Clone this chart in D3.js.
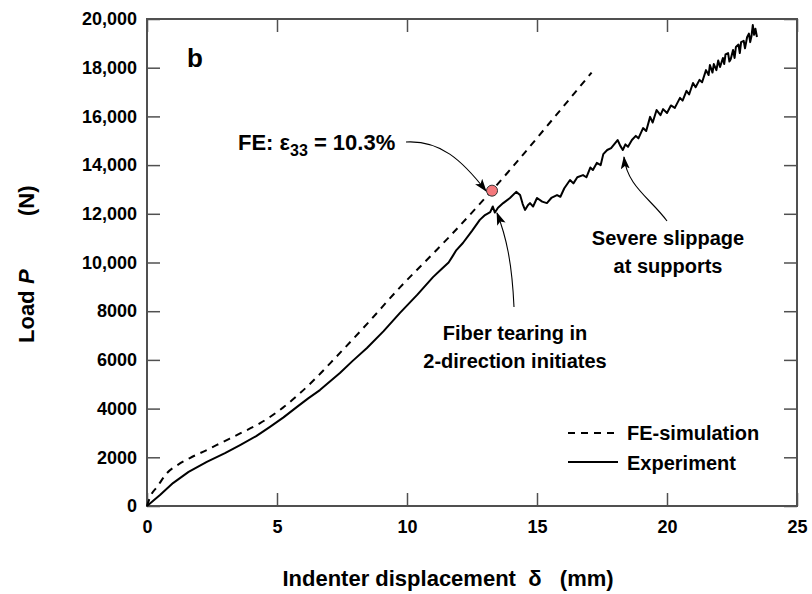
<!DOCTYPE html>
<html>
<head>
<meta charset="utf-8">
<script src="https://cdn.jsdelivr.net/npm/d3@7"></script>
<style>
  body { margin: 0; background: #fff; }
  svg text { font-family: "Liberation Sans", Arial, sans-serif; font-weight: bold; fill: #000; }
</style>
</head>
<body>
<div id="chart"></div>
<script>
// FE-simulation curve (displacement mm, load N)
const feDisp = [0, 0.12, 0.4, 0.77, 1.2, 1.65, 2.3, 2.92, 3.6, 4.35, 5.23, 6.38, 7.3, 8.5, 9.73, 10.7, 11.65, 12.93, 14.0, 15.5, 17.1];
const feLoad = [0, 370, 800, 1355, 1700, 1970, 2300, 2630, 2990, 3400, 4040, 5130, 6150, 7520, 8980, 10040, 11080, 12560, 13850, 15750, 17800];

// Experiment curve
const expDisp = [0, 0.5, 1.0, 1.6, 2.3, 3.0, 3.58, 4.2, 4.73, 5.25, 5.77, 6.2, 6.65, 7.42, 7.9, 8.46, 9.1, 9.73, 10.4, 11.0, 11.3, 11.6, 11.75, 11.9, 12.15, 12.5, 12.8, 13.0, 13.2, 13.3, 13.38, 13.5, 13.7, 13.96, 14.2, 14.35, 14.45, 14.54, 14.65, 14.73, 14.85, 15.0, 15.2, 15.38, 15.55, 15.77, 15.9, 16.05, 16.27, 16.4, 16.55, 16.77, 16.9, 17.05, 17.15, 17.3, 17.45, 17.55, 17.7, 17.85, 18.1, 18.2, 18.3, 18.4, 18.5, 18.65, 18.8, 18.9, 19.08, 19.2, 19.35, 19.45, 19.6, 19.75, 19.85, 20.0, 20.15, 20.3, 20.5, 20.6, 20.75, 20.85, 21.0, 21.1, 21.25, 21.35, 21.5, 21.6, 21.65, 21.75, 21.8, 21.9, 21.97, 22.04, 22.15, 22.2, 22.25, 22.35, 22.4, 22.45, 22.54, 22.6, 22.65, 22.75, 22.8, 22.85, 22.95, 23.0, 23.08, 23.15, 23.2, 23.25, 23.3, 23.35, 23.4, 23.46];
const expLoad = [0, 450, 940, 1400, 1810, 2170, 2500, 2870, 3250, 3640, 4070, 4420, 4760, 5460, 5950, 6490, 7180, 7930, 8680, 9400, 9700, 10000, 10250, 10510, 10800, 11300, 11750, 11950, 12070, 12300, 12050, 12250, 12440, 12650, 12900, 12770, 12400, 12160, 12350, 12440, 12300, 12650, 12500, 12440, 12650, 12770, 12700, 13050, 13390, 13250, 13500, 13590, 13500, 13900, 13800, 14090, 14000, 14450, 14620, 14700, 15030, 14800, 14620, 14850, 14750, 15030, 15200, 15100, 15520, 15400, 15980, 15750, 16260, 16050, 16300, 16140, 16450, 16350, 16760, 16650, 17050, 16900, 17370, 17200, 17500, 17400, 17900, 17700, 18110, 17800, 18150, 17900, 18300, 18030, 18400, 18150, 18550, 18600, 18250, 18350, 18730, 18400, 18850, 18950, 18600, 19050, 19100, 18800, 19250, 19400, 19050, 19300, 19750, 19350, 19600, 19260];

// FE point where e33 reaches 10.3%
const fePoint = [13.27, 12950];

const xTicks = [0, 5, 10, 15, 20, 25];
const yTicks = [0, 2000, 4000, 6000, 8000, 10000, 12000, 14000, 16000, 18000, 20000];

const width = 812, height = 594;
const margin = { left: 147, right: 15, top: 19, bottom: 88 };
const frameColor = "#505050";

const svg = d3.select("#chart").append("svg")
    .attr("width", width)
    .attr("height", height);

const x = d3.scaleLinear().domain([0, 25]).range([margin.left, width - margin.right]);
const y = d3.scaleLinear().domain([0, 20000]).range([height - margin.bottom, margin.top]);

const yFormat = d => d >= 10000 ? d3.format(",")(d) : String(d);

// arrow head
svg.append("defs").append("marker")
    .attr("id", "arrow")
    .attr("viewBox", "0 0 13 9")
    .attr("refX", 12).attr("refY", 4.5)
    .attr("markerWidth", 13).attr("markerHeight", 9)
    .attr("markerUnits", "userSpaceOnUse")
    .attr("orient", "auto")
    .append("path")
    .attr("d", "M0,0 L13,4.5 L0,9 L3,4.5 Z")
    .attr("fill", "#000");

// axes: labels bottom / left, inward ticks on all four sides
function styleAxis(g) {
    g.select(".domain").remove();
    g.selectAll(".tick line").attr("stroke", frameColor).attr("stroke-width", 1.5);
}

svg.append("g")
    .attr("transform", `translate(0,${y(0)})`)
    .call(d3.axisBottom(x).tickValues(xTicks).tickSizeInner(-13).tickSizeOuter(0).tickPadding(8).tickFormat(d3.format("d")))
    .call(styleAxis)
    .selectAll("text").attr("font-size", 18).attr("dy", "1.05em");

svg.append("g")
    .attr("transform", `translate(${x(0)},0)`)
    .call(d3.axisLeft(y).tickValues(yTicks).tickSizeInner(-13).tickSizeOuter(0).tickPadding(10).tickFormat(yFormat))
    .call(styleAxis)
    .selectAll("text").attr("font-size", 18);

svg.append("g")
    .attr("transform", `translate(0,${y(20000)})`)
    .call(d3.axisTop(x).tickValues(xTicks).tickSizeInner(-13).tickSizeOuter(0).tickFormat(""))
    .call(styleAxis);

svg.append("g")
    .attr("transform", `translate(${x(25)},0)`)
    .call(d3.axisRight(y).tickValues(yTicks).tickSizeInner(-13).tickSizeOuter(0).tickFormat(""))
    .call(styleAxis);

svg.selectAll(".tick text").attr("fill", "#000").attr("font-family", null).attr("font-weight", "bold");

svg.append("rect")
    .attr("x", x(0)).attr("y", y(20000))
    .attr("width", x(25) - x(0)).attr("height", y(0) - y(20000))
    .attr("fill", "none")
    .attr("stroke", frameColor)
    .attr("stroke-width", 2);

// curves
const line = d3.line().x(d => x(d[0])).y(d => y(d[1]));

svg.append("path")
    .datum(feDisp.map((d, i) => [d, feLoad[i]]))
    .attr("d", line.curve(d3.curveMonotoneX))
    .attr("fill", "none")
    .attr("stroke", "#000")
    .attr("stroke-width", 2)
    .attr("stroke-dasharray", "7,6");

svg.append("path")
    .datum(expDisp.map((d, i) => [d, expLoad[i]]))
    .attr("d", line.curve(d3.curveLinear))
    .attr("fill", "none")
    .attr("stroke", "#000")
    .attr("stroke-width", 2)
    .attr("stroke-linejoin", "round");

svg.append("circle")
    .attr("cx", x(fePoint[0])).attr("cy", y(fePoint[1]))
    .attr("r", 5.5)
    .attr("fill", "#f4787c")
    .attr("stroke", "#333")
    .attr("stroke-width", 1);

// annotations
svg.append("text").attr("x", 187).attr("y", 67).attr("font-size", 26).text("b");

const feText = svg.append("text").attr("x", 238).attr("y", 150).attr("font-size", 22);
feText.append("tspan").text("FE: \u03b5");
feText.append("tspan").attr("font-size", 16).attr("dy", 6).text("33");
feText.append("tspan").attr("dy", -6).text(" = 10.3%");

svg.append("text").attr("x", 515).attr("y", 340).attr("font-size", 20).attr("text-anchor", "middle").text("Fiber tearing in");
svg.append("text").attr("x", 515).attr("y", 368).attr("font-size", 20).attr("text-anchor", "middle").text("2-direction initiates");

svg.append("text").attr("x", 668).attr("y", 245).attr("font-size", 20).attr("text-anchor", "middle").text("Severe slippage");
svg.append("text").attr("x", 668).attr("y", 273).attr("font-size", 20).attr("text-anchor", "middle").text("at supports");

const arrows = [
    "M406,142 C440,140 462,160 486,191",
    "M514,307 C512,262 506,236 497,213",
    "M667,221 C650,198 627,186 624,157"
];
svg.selectAll(".arrow").data(arrows).enter().append("path")
    .attr("class", "arrow")
    .attr("d", d => d)
    .attr("fill", "none")
    .attr("stroke", "#000")
    .attr("stroke-width", 1.1)
    .attr("marker-end", "url(#arrow)");

// legend
const legend = svg.append("g");
legend.append("line").attr("x1", 568).attr("x2", 618).attr("y1", 433).attr("y2", 433)
    .attr("stroke", "#000").attr("stroke-width", 2).attr("stroke-dasharray", "7,6");
legend.append("line").attr("x1", 568).attr("x2", 618).attr("y1", 462).attr("y2", 462)
    .attr("stroke", "#000").attr("stroke-width", 2);
legend.append("text").attr("x", 627).attr("y", 440).attr("font-size", 20).text("FE-simulation");
legend.append("text").attr("x", 627).attr("y", 470).attr("font-size", 20).text("Experiment");

// axis titles
svg.append("text")
    .attr("x", 448).attr("y", 586)
    .attr("font-size", 22)
    .attr("text-anchor", "middle")
    .style("white-space", "pre")
    .text("Indenter displacement  \u03b4   (mm)");

// y title pieces placed along the rotated axis
const yTitleParts = [
    { txt: "Load", y: 343, italic: false },
    { txt: "P", y: 284, italic: true },
    { txt: "(N)", y: 216, italic: false }
];
svg.selectAll(".ytitle").data(yTitleParts).enter().append("text")
    .attr("class", "ytitle")
    .attr("transform", d => `translate(34,${d.y}) rotate(-90)`)
    .attr("font-size", 22)
    .attr("font-style", d => d.italic ? "italic" : null)
    .text(d => d.txt);
</script>
</body>
</html>
